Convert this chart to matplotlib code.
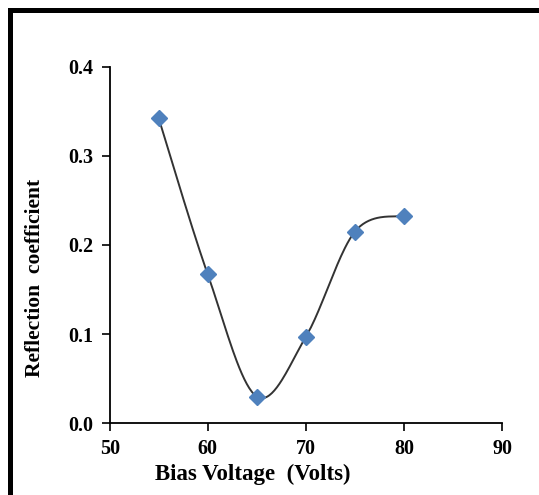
import numpy as np
import matplotlib
matplotlib.use("Agg")
import matplotlib.pyplot as plt
from matplotlib.patches import Rectangle

bias_voltage = [55, 60, 65, 70, 75, 80]
reflection = [0.342, 0.167, 0.030, 0.097, 0.215, 0.233]
x_ticks = [50, 60, 70, 80, 90]
y_ticks = [0.0, 0.1, 0.2, 0.3, 0.4]


def smooth_curve(x, y, n=40):
    """Catmull-Rom style smoothed line through the points."""
    x = np.asarray(x, float)
    y = np.asarray(y, float)
    px = np.concatenate([[x[0]], x, [x[-1]]])
    py = np.concatenate([[y[0]], y, [y[-1]]])
    xs, ys = [], []
    t = np.linspace(0, 1, n)
    for i in range(1, len(px) - 2):
        p0 = np.array([px[i], py[i]])
        p3 = np.array([px[i + 1], py[i + 1]])
        p1 = p0 + (np.array([px[i + 1], py[i + 1]]) - np.array([px[i - 1], py[i - 1]])) / 6
        p2 = p3 - (np.array([px[i + 2], py[i + 2]]) - np.array([px[i], py[i]])) / 6
        b = ((1 - t) ** 3)[:, None] * p0 + (3 * (1 - t) ** 2 * t)[:, None] * p1 \
            + (3 * (1 - t) * t ** 2)[:, None] * p2 + (t ** 3)[:, None] * p3
        xs.append(b[:, 0])
        ys.append(b[:, 1])
    return np.concatenate(xs), np.concatenate(ys)


plt.rcParams["font.family"] = ["Liberation Serif", "DejaVu Serif"]
plt.rcParams["font.weight"] = "bold"

W, H = 539, 495
fig = plt.figure(figsize=(W / 100, H / 100), dpi=100)
ax = fig.add_axes([109.7 / W, (H - 423.3) / H, 392.3 / W, 356.6 / H])

sx, sy = smooth_curve(bias_voltage, reflection)
ax.plot(sx, sy, color="#333333", lw=1.4, zorder=2, clip_on=False)
ax.plot(bias_voltage, reflection, ls="none", marker="D", ms=8.5,
        color="#4F81BD", mec="#4F81BD", zorder=3, clip_on=False)

ax.set_xlim(50, 90)
ax.set_ylim(0, 0.4)
ax.set_xticks(x_ticks)
ax.set_yticks(y_ticks)
ax.set_yticklabels([f"{v:.1f}" for v in y_ticks])

for side in ("top", "right"):
    ax.spines[side].set_visible(False)
for side in ("left", "bottom"):
    ax.spines[side].set_linewidth(1.3)
ax.tick_params(direction="out", length=5.5, width=1.2, labelsize=14.5, pad=6)
for lbl in ax.get_xticklabels() + ax.get_yticklabels():
    lbl.set_fontweight("bold")

fig.text(253 / W, 1 - 474 / H, "Bias Voltage  (Volts)", fontsize=16.5,
         fontweight="bold", ha="center", va="center")
fig.text(35 / W, 1 - 278 / H, "Reflection  coefficient", fontsize=15.5,
         fontweight="bold", ha="center", va="center", rotation=90)

fig.patches.append(Rectangle((10 / W, -0.05), 1.2, 1 - 10 / H + 0.05,
                             transform=fig.transFigure, fill=False,
                             edgecolor="black", lw=3.6, zorder=0))

fig.savefig("out.png", dpi=100)
